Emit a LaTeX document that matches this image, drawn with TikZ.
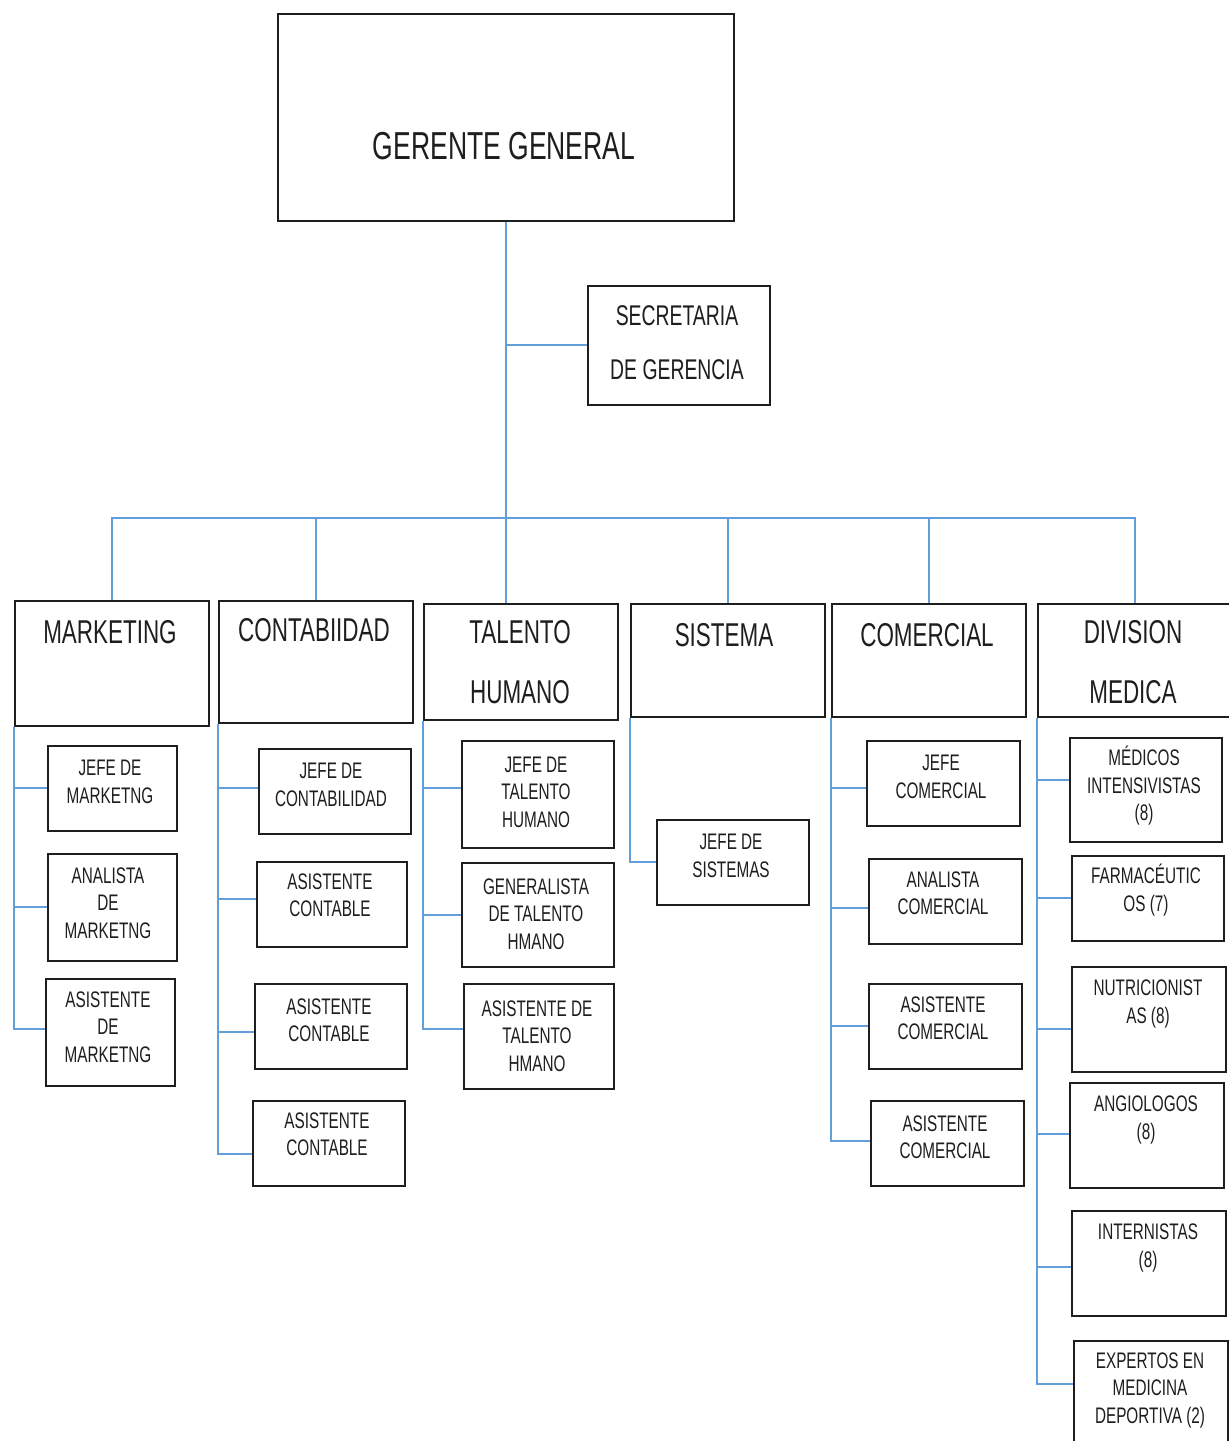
\documentclass[tikz,border=0pt]{standalone}
\usepackage{fontspec}
\setmainfont[FakeStretch=0.68]{Liberation Sans}
\definecolor{connblue}{RGB}{98,158,218}
\definecolor{ink}{RGB}{30,30,30}
\newcommand\obox[5]{\node[orgbox, minimum width=#4pt, minimum height=#5pt] (#1) at (#2,#3) {};}
% branch from spine of #1 to west side of #2, shifted by #3 (pt, positive = up)
\newcommand\branch[3]{\draw[conn] ([yshift=#3pt]#1.south west |- #2.west) -- ([yshift=#3pt]#2.west);}
\begin{document}
\begin{tikzpicture}[x=1pt,y=-1pt,
  orgbox/.style={draw=ink, line width=1.8pt, inner sep=0pt, anchor=north west},
  conn/.style={draw=connblue, line width=2pt},
  txt/.style={align=center, text=ink, inner sep=0pt, font=\fontsize{22.5}{27.5}\selectfont},
  head/.style={align=center, text=ink, inner sep=0pt, font=\fontsize{33}{60}\selectfont}]
\useasboundingbox[fill=white] (0,0) rectangle (1229,1441);

% top
\obox{ger}{277}{13}{456}{207}
\node[align=center, text=ink, inner sep=0pt, font=\fontsize{39}{46}\selectfont] (gert) at (504,146) {GERENTE GENERAL};
\obox{sec}{587}{285}{182}{119}
\node[align=center, text=ink, inner sep=0pt, font=\fontsize{28.5}{54}\selectfont] (sect) at (677,343) {SECRETARIA\\DE GERENCIA};

% departments
\obox{mkt}{14}{600}{194}{125}
\obox{con}{218}{600}{194}{122}
\obox{tal}{423}{603}{194}{116}
\obox{sis}{630}{603}{194}{113}
\obox{com}{831}{603}{194}{113}
\obox{div}{1037}{603}{194}{113}
\node[head] (mktt) at (110,632) {MARKETING};
\node[head] (cont) at (314,630) {CONTABIIDAD};
\node[head] (talt) at (520,662) {TALENTO\\HUMANO};
\node[head] (sist) at (724,635) {SISTEMA};
\node[head] (comt) at (927,635) {COMERCIAL};
\node[head] (divt) at (1133,662) {DIVISION\\MEDICA};

% marketing
\obox{m1}{47}{745}{129}{85}
\obox{m2}{47}{853}{129}{107}
\obox{m3}{45}{978}{129}{107}
\node[txt] (m1t) at (110,782) {JEFE DE\\MARKETNG};
\node[txt] (m2t) at (108,903) {ANALISTA\\DE\\MARKETNG};
\node[txt] (m3t) at (108,1027) {ASISTENTE\\DE\\MARKETNG};

% contabilidad
\obox{c1}{258}{748}{152}{85}
\obox{c2}{256}{861}{150}{85}
\obox{c3}{254}{983}{152}{85}
\obox{c4}{252}{1100}{152}{85}
\node[txt] (c1t) at (331,785) {JEFE DE\\CONTABILIDAD};
\node[txt] (c2t) at (330,895) {ASISTENTE\\CONTABLE};
\node[txt] (c3t) at (329,1020) {ASISTENTE\\CONTABLE};
\node[txt] (c4t) at (327,1134) {ASISTENTE\\CONTABLE};

% talento
\obox{t1}{461}{740}{152}{107}
\obox{t2}{461}{862}{152}{104}
\obox{t3}{463}{983}{150}{105}
\node[txt] (t1t) at (536,792) {JEFE DE\\TALENTO\\HUMANO};
\node[txt] (t2t) at (536,914) {GENERALISTA\\DE TALENTO\\HMANO};
\node[txt] (t3t) at (537,1036) {ASISTENTE DE\\TALENTO\\HMANO};

% sistema
\obox{s1}{656}{819}{152}{85}
\node[txt] (s1t) at (731,856) {JEFE DE\\SISTEMAS};

% comercial
\obox{k1}{866}{740}{153}{85}
\obox{k2}{868}{858}{153}{85}
\obox{k3}{868}{983}{153}{85}
\obox{k4}{870}{1100}{153}{85}
\node[txt] (k1t) at (941,777) {JEFE\\COMERCIAL};
\node[txt] (k2t) at (943,893) {ANALISTA\\COMERCIAL};
\node[txt] (k3t) at (943,1018) {ASISTENTE\\COMERCIAL};
\node[txt] (k4t) at (945,1137) {ASISTENTE\\COMERCIAL};

% division medica
\obox{d1}{1069}{737}{152}{104}
\obox{d2}{1071}{855}{152}{85}
\obox{d3}{1071}{966}{154}{105}
\obox{d4}{1069}{1082}{154}{105}
\obox{d5}{1071}{1210}{154}{105}
\obox{d6}{1073}{1340}{154}{105}
\node[txt] (d1t) at (1144,786) {MÉDICOS\\INTENSIVISTAS\\(8)};
\node[txt] (d2t) at (1146,890) {FARMACÉUTIC\\OS (7)};
\node[txt] (d3t) at (1148,1004) {NUTRICIONIST\\AS (8)};
\node[txt] (d4t) at (1146,1120) {ANGIOLOGOS\\(8)};
\node[txt] (d5t) at (1148,1248) {INTERNISTAS\\(8)};
\node[txt] (d6t) at (1150,1390) {EXPERTOS EN\\MEDICINA\\DEPORTIVA (2)};

% connectors
\coordinate (bus) at (0,518);
\draw[conn] (ger.south) -- (ger.south |- tal.north);
\draw[conn] (ger.south |- sec.west) -- (sec.west);
\draw[conn] (mkt.north) -- (mkt.north |- bus) -- (div.north |- bus) -- (div.north);
\draw[conn] (con.north |- bus) -- (con.north);
\draw[conn] (sis.north |- bus) -- (sis.north);
\draw[conn] (com.north |- bus) -- (com.north);

\draw[conn] (mkt.south west) -- ([yshift=3.5pt]mkt.south west |- m3.west) -- ([yshift=3.5pt]m3.west);
\branch{mkt}{m1}{0}
\branch{mkt}{m2}{0}

\draw[conn] (con.south west) -- ([yshift=-11pt]con.south west |- c4.west) -- ([yshift=-11pt]c4.west);
\branch{con}{c1}{3}
\branch{con}{c2}{5}
\branch{con}{c3}{-6}

\draw[conn] (tal.south west) -- ([yshift=7.5pt]tal.south west |- t3.west) -- ([yshift=7.5pt]t3.west);
\branch{tal}{t1}{6.5}
\branch{tal}{t2}{0}

\draw[conn] (sis.south west) -- (sis.south west |- s1.west) -- (s1.west);

\draw[conn] (com.south west) -- ([yshift=2.5pt]com.south west |- k4.west) -- ([yshift=2.5pt]k4.west);
\branch{com}{k1}{-4.5}
\branch{com}{k2}{-6.5}
\branch{com}{k3}{0}

\draw[conn] (div.south west) -- ([yshift=9pt]div.south west |- d6.west) -- ([yshift=9pt]d6.west);
\branch{div}{d1}{10}
\branch{div}{d2}{0}
\branch{div}{d3}{-10}
\branch{div}{d4}{1.5}
\branch{div}{d5}{-3.5}
\end{tikzpicture}
\end{document}
